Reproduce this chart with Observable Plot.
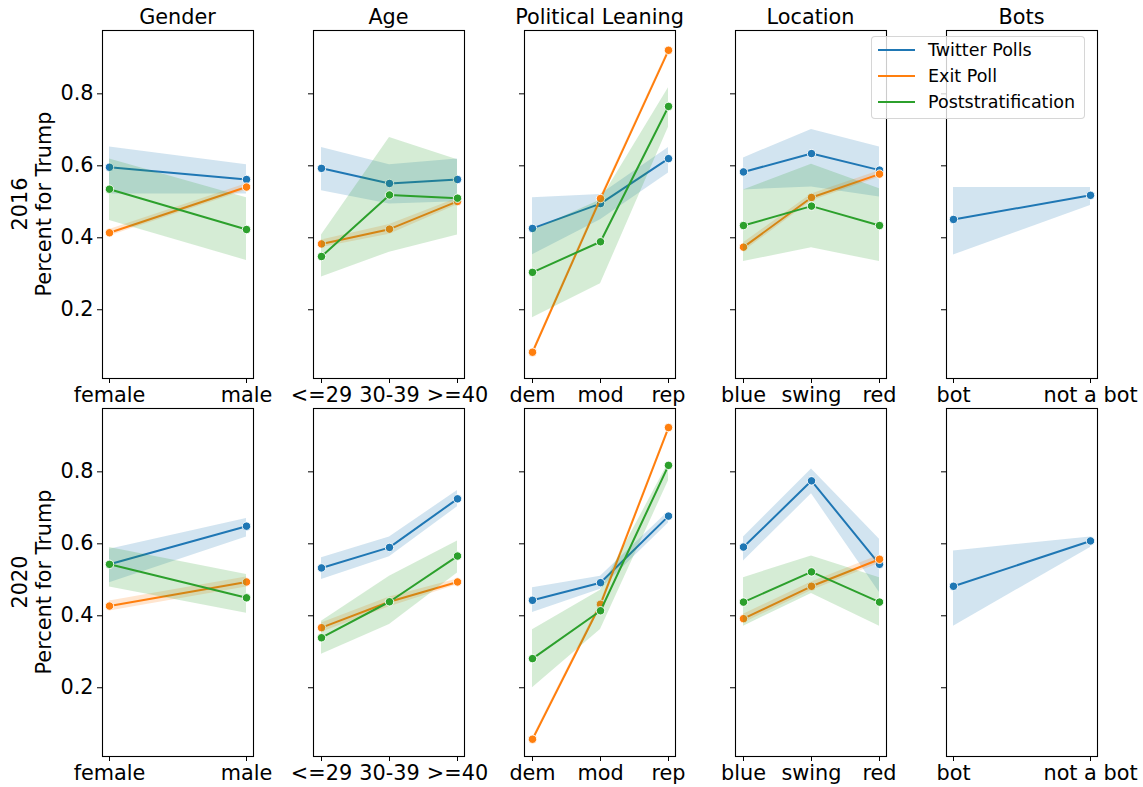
<!DOCTYPE html>
<html><head><meta charset="utf-8">
<script src="https://cdn.jsdelivr.net/npm/d3@7"></script>
<script src="https://cdn.jsdelivr.net/npm/@observablehq/plot@0.6"></script>
<style>
body{margin:0;background:#fff;}
#chart{position:relative;width:1143px;height:787px;font-family:"DejaVu Sans",sans-serif;color:#000;overflow:hidden;background:#fff}
.title{position:absolute;font-size:20.8px;text-align:center;width:240px;line-height:24px;white-space:nowrap}
.ylab{position:absolute;font-size:20.8px;text-align:center;width:300px;height:48px;line-height:24px;transform:rotate(-90deg);transform-origin:50% 50%;white-space:nowrap}
.panel{position:absolute}
.legend{position:absolute;background:rgba(255,255,255,0.8);border:1px solid rgba(204,204,204,0.8);border-radius:4px;box-sizing:border-box}
.legend .row{position:absolute;left:0;height:26px;line-height:26px;font-size:17.5px;white-space:nowrap}
</style></head><body><div id="chart"></div>
<script>
// ---- categories & labels ----
const panelTitles = ["Gender", "Age", "Political Leaning", "Location", "Bots"];
const panelCats = [
  ["female", "male"],
  ["<=29", "30-39", ">=40"],
  ["dem", "mod", "rep"],
  ["blue", "swing", "red"],
  ["bot", "not a bot"]
];
const years = ["2016", "2020"];
const seriesNames = ["Twitter Polls", "Exit Poll", "Poststratification"];
const yTicks = [0.2, 0.4, 0.6, 0.8];
const yLabel = "Percent for Trump";

// ---- 2016 values (per panel) ----
const twitter2016 = [[0.596, 0.562], [0.593, 0.551, 0.562], [0.426, 0.495, 0.620], [0.583, 0.634, 0.588], [0.451, 0.518]];
const twitter2016Lo = [[0.522, 0.522], [0.531, 0.494, 0.500], [0.353, 0.450, 0.580], [0.533, 0.541, 0.513], [0.352, 0.490]];
const twitter2016Hi = [[0.652, 0.603], [0.651, 0.603, 0.619], [0.511, 0.520, 0.651], [0.622, 0.701, 0.652], [0.540, 0.540]];
const exit2016 = [[0.414, 0.541], [0.383, 0.424, 0.501], [0.082, 0.509, 0.921], [0.374, 0.512, 0.577], null];
const exit2016Lo = [[0.405, 0.532], [0.373, 0.410, 0.492], [0.078, 0.503, 0.917], [0.362, 0.502, 0.568], null];
const exit2016Hi = [[0.423, 0.550], [0.394, 0.437, 0.510], [0.086, 0.515, 0.925], [0.386, 0.522, 0.586], null];
const post2016 = [[0.535, 0.423], [0.348, 0.519, 0.510], [0.304, 0.389, 0.765], [0.434, 0.488, 0.434], null];
const post2016Lo = [[0.448, 0.337], [0.291, 0.360, 0.408], [0.178, 0.272, 0.707], [0.334, 0.372, 0.334], null];
const post2016Hi = [[0.619, 0.511], [0.408, 0.679, 0.617], [0.420, 0.505, 0.817], [0.533, 0.604, 0.536], null];

// ---- 2020 values (per panel) ----
const twitter2020 = [[0.543, 0.649], [0.533, 0.590, 0.725], [0.443, 0.492, 0.677], [0.591, 0.775, 0.543], [0.482, 0.608]];
const twitter2020Lo = [[0.492, 0.619], [0.501, 0.564, 0.703], [0.409, 0.474, 0.658], [0.552, 0.739, 0.465], [0.371, 0.590]];
const twitter2020Hi = [[0.585, 0.670], [0.561, 0.619, 0.748], [0.478, 0.510, 0.690], [0.619, 0.808, 0.613], [0.580, 0.619]];
const exit2020 = [[0.427, 0.494], [0.367, 0.439, 0.494], [0.057, 0.432, 0.923], [0.392, 0.482, 0.557], null];
const exit2020Lo = [[0.413, 0.480], [0.354, 0.425, 0.486], [0.053, 0.426, 0.919], [0.380, 0.470, 0.546], null];
const exit2020Hi = [[0.441, 0.508], [0.380, 0.452, 0.502], [0.061, 0.438, 0.927], [0.404, 0.494, 0.568], null];
const post2020 = [[0.543, 0.450], [0.339, 0.439, 0.566], [0.281, 0.414, 0.818], [0.438, 0.522, 0.438], null];
const post2020Lo = [[0.480, 0.407], [0.293, 0.376, 0.519], [0.200, 0.362, 0.775], [0.371, 0.462, 0.371], null];
const post2020Hi = [[0.590, 0.515], [0.385, 0.510, 0.608], [0.361, 0.471, 0.825], [0.506, 0.566, 0.506], null];

// ---- assemble ----
const byYear = {
  "2016": [[twitter2016, twitter2016Lo, twitter2016Hi], [exit2016, exit2016Lo, exit2016Hi], [post2016, post2016Lo, post2016Hi]],
  "2020": [[twitter2020, twitter2020Lo, twitter2020Hi], [exit2020, exit2020Lo, exit2020Hi], [post2020, post2020Lo, post2020Hi]]
};
const palette = ["#1f77b4", "#ff7f0e", "#2ca02c"];

const chart = document.getElementById("chart");
const FW = 151, FH = 348, X0 = 102, DX = 211, Y0 = 30, DY = 378;
const mL = 60, mR = 60, mT = 10, mB = 40;
const yDomain = [0.009, 0.976];

years.forEach((year, r) => {
  const top = Y0 + DY * r;
  // y label
  const yl = document.createElement("div");
  yl.className = "ylab";
  yl.style.left = (32 - 150) + "px";
  yl.style.top = (top + FH / 2 - 24) + "px";
  yl.innerHTML = `<div>${year}</div><div>${yLabel}</div>`;
  chart.appendChild(yl);

  panelTitles.forEach((title, c) => {
    const left = X0 + DX * c;
    const cats = panelCats[c];
    const rows = [];
    byYear[year].forEach(([m, lo, hi], s) => {
      if (!m[c]) return;
      cats.forEach((cat, i) => rows.push({series: seriesNames[s], s, cat, mean: m[c][i], lo: lo[c][i], hi: hi[c][i]}));
    });
    const marks = [];
    seriesNames.forEach((name, s) => {
      const d = rows.filter(q => q.s === s);
      if (!d.length) return;
      marks.push(Plot.areaY(d, {x: "cat", y1: "lo", y2: "hi", fill: "series", fillOpacity: 0.2}));
      marks.push(Plot.line(d, {x: "cat", y: "mean", stroke: "series", strokeWidth: 2}));
      marks.push(Plot.dot(d, {x: "cat", y: "mean", fill: "series", stroke: "white", strokeWidth: 0.9, r: 4.2}));
    });
    marks.push(Plot.frame({stroke: "black", strokeWidth: 1.1}));
    marks.push(Plot.axisX({tickSize: 5, tickPadding: 4, label: null}));
    marks.push(Plot.axisY({ticks: yTicks, tickSize: 5, tickPadding: 4, label: null,
      tickFormat: c === 0 ? d3.format(".1f") : () => ""}));
    const svg = Plot.plot({
      width: FW + mL + mR, height: FH + mT + mB,
      marginLeft: mL, marginRight: mR, marginTop: mT, marginBottom: mB,
      style: {fontSize: "20.8px", fontFamily: "DejaVu Sans, sans-serif", background: "transparent", color: "black", overflow: "visible"},
      x: {type: "point", domain: cats, padding: 0.05 * (cats.length - 1), label: null},
      y: {domain: yDomain, label: null},
      color: {domain: seriesNames, range: palette},
      marks
    });
    const holder = document.createElement("div");
    holder.className = "panel";
    holder.style.left = (left - mL) + "px";
    holder.style.top = (top - mT) + "px";
    holder.style.width = (FW + mL + mR) + "px";
    holder.appendChild(svg);
    chart.appendChild(holder);

    if (r === 0) {
      const t = document.createElement("div");
      t.className = "title";
      t.style.left = (left + FW / 2 - 120) + "px";
      t.style.top = "5px";
      t.textContent = title;
      chart.appendChild(t);
    }
  });
});

// legend
const lg = document.createElement("div");
lg.className = "legend";
lg.style.left = "871px"; lg.style.top = "36px"; lg.style.width = "214px"; lg.style.height = "83px";
seriesNames.forEach((name, i) => {
  const row = document.createElement("div");
  row.className = "row";
  row.style.top = (14 + 26 * i - 13 - 1) + "px";
  row.innerHTML = `<svg width="50" height="26" style="position:absolute;left:0;top:0"><line x1="6" x2="43" y1="13" y2="13" stroke="${palette[i]}" stroke-width="2"/></svg><span style="position:absolute;left:56px;top:0">${name}</span>`;
  lg.appendChild(row);
});
chart.appendChild(lg);
</script></body></html>
